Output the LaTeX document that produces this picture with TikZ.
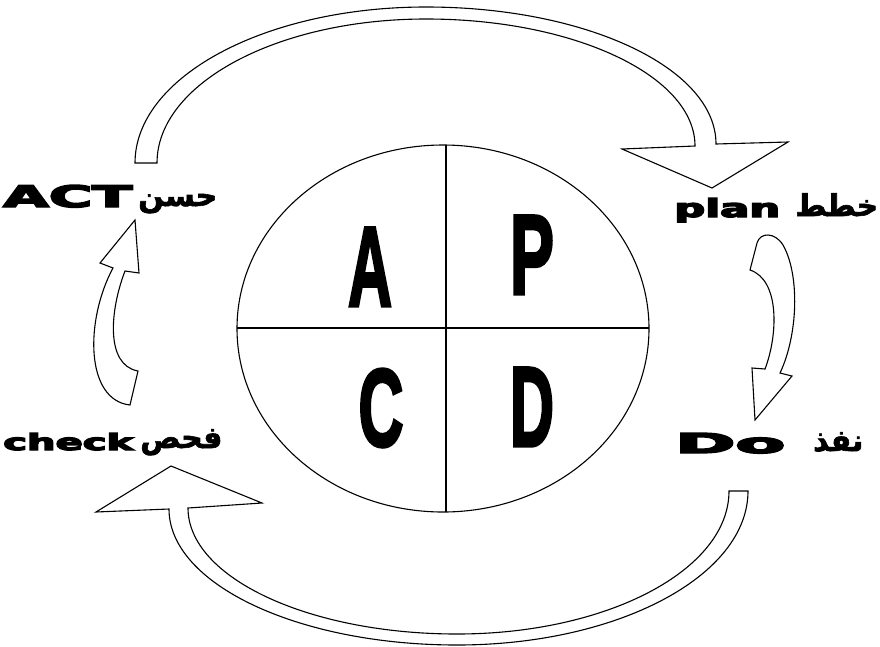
\documentclass[tikz,border=0pt]{standalone}
\usepackage{fontspec}
\usepackage{graphicx}
\usetikzlibrary{shapes.geometric}
\setmainfont{DejaVu Sans}
\newfontfamily\heavy[BoldFeatures={FakeBold=5}]{DejaVu Sans}
\newfontfamily\bigletters[BoldFeatures={FakeBold=3}]{Liberation Sans}
\newfontfamily\arabicfont[Script=Arabic, BoldFeatures={FakeBold=2}]{DejaVu Sans}
\TeXXeTstate=1
\tikzset{
  arrowshape/.style={draw=black, fill=white, line width=1.1pt, line join=miter},
  quad/.style={draw=black, line width=1.1pt},
  bigletter/.style={inner sep=0pt, anchor=base, font=\bigletters\bfseries},
  latlabel/.style={inner sep=0pt, anchor=base west, font=\heavy\bfseries},
  arlabel/.style={inner sep=0pt, anchor=base west, font=\arabicfont\bfseries\fontsize{30}{34}\selectfont}
}
\begin{document}
\begin{tikzpicture}[x=1pt,y=-1pt]
\useasboundingbox (0,0) rectangle (880,646);
% central ellipse
\node[quad, ellipse, minimum width=412pt, minimum height=367pt, inner sep=0pt] (ell) at (443,328.5) {};
\coordinate (vt) at (446,145);
\coordinate (vb) at (446,512);
\coordinate (hl) at (237,328);
\coordinate (hr) at (649,328);
\draw[quad] (vt) -- (vb);
\draw[quad] (hl) -- (hr);
% big letters
\node[bigletter] (A) at (370,306) {\resizebox{44pt}{78pt}{A}};
\node[bigletter] (P) at (532,294) {\resizebox{44pt}{78pt}{P}};
\node[bigletter] (C) at (381,446) {\resizebox{45pt}{77pt}{C}};
\node[bigletter] (D) at (532,446) {\resizebox{44pt}{78pt}{D}};
% top arrow
\draw[arrowshape] (135,163)
  .. controls (135,77) and (265,7) .. (426,7)
  .. controls (586,7) and (716,68) .. (716,144)
  -- (788,142) -- (712,188) -- (622,149) -- (695,146)
  .. controls (695,76) and (574.5,19) .. (426,19)
  .. controls (277.5,19) and (157,83.5) .. (157,163)
  -- cycle;
% bottom arrow
\draw[arrowshape] (729,491) -- (748,491)
  .. controls (748,576) and (617.6,645) .. (457,645)
  .. controls (298,645) and (169,584) .. (169,509)
  -- (96,512) -- (171,466) -- (262,503) -- (188,508)
  .. controls (188,577.5) and (308.5,634) .. (457,634)
  .. controls (607,634) and (729,570) .. (729,491)
  -- cycle;
% left small arrow (check -> act)
\draw[arrowshape] (135,220) -- (139,273) -- (125,271)
  .. controls (110,310) and (105,365) .. (138,371)
  -- (130,405)
  .. controls (85,400) and (85,320) .. (113,268)
  -- (100,263) -- cycle;
% right small arrow (plan -> do)
\draw[arrowshape] (750,270) -- (757,243)
  .. controls (760,232) and (775,232) .. (783,245)
  .. controls (800,275) and (798,335) .. (780,373)
  -- (792,376) -- (755,420) -- (752,368) -- (765,369)
  .. controls (778,335) and (780,280) .. (750,270)
  -- cycle;
% labels
\node[latlabel] (act) at (3,207) {\resizebox{129pt}{22pt}{ACT}};
\node[arlabel] (actar) at (138,206) {\beginR حسن\endR};
\node[latlabel] (plan) at (674,217) {\resizebox{106pt}{19pt}{plan}};
\node[arlabel] (planar) at (795,216) {\beginR خطط\endR};
\node[latlabel] (check) at (3,450) {\resizebox{130pt}{17pt}{check}};
\node[arlabel] (checkar) at (140,448) {\beginR فحص\endR};
\node[latlabel] (do) at (675,453) {\resizebox{110pt}{20pt}{Do}};
\node[arlabel] (doar) at (813,451) {\beginR نفذ\endR};
\end{tikzpicture}
\end{document}
